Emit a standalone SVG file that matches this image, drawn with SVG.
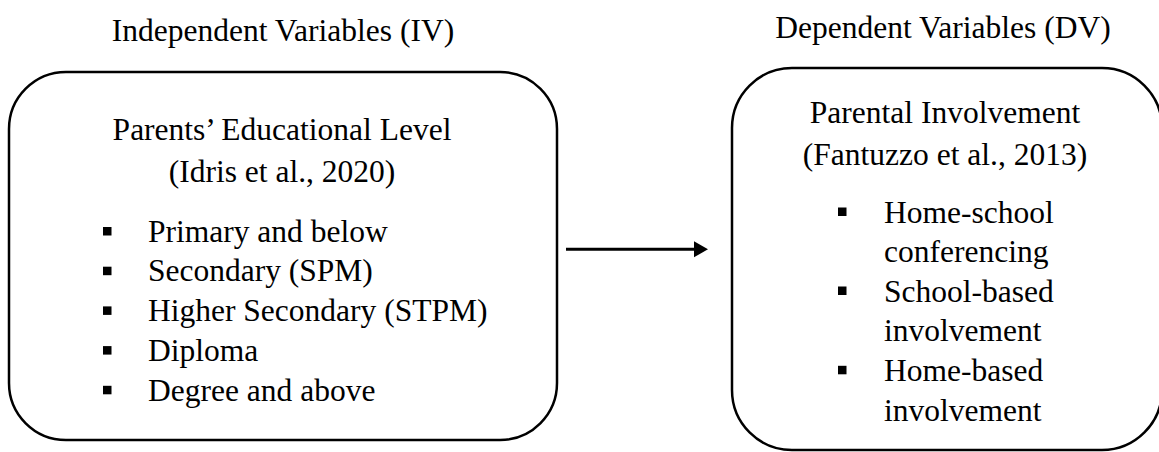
<svg xmlns="http://www.w3.org/2000/svg" width="1159" height="452" viewBox="0 0 1159 452">
<style>
text{font-family:"Liberation Serif","Times New Roman",Times,serif;font-size:31.5px;fill:#000}
.c{text-anchor:middle}
.box{fill:#fff;stroke:#000;stroke-width:2.5}
.b{fill:#000}
</style>
<rect width="1159" height="452" fill="#fff"/>
<text class="c" x="283" y="41">Independent Variables (IV)</text>
<text class="c" x="943" y="38">Dependent Variables (DV)</text>
<g id="iv">
<rect class="box" x="9" y="72" width="548" height="368" rx="57" ry="57"/>
<text class="c" x="282" y="140">Parents’ Educational Level</text>
<text class="c" x="282" y="182">(Idris et al., 2020)</text>
<rect class="b" x="103" y="227" width="8.5" height="8.5"/>
<text x="148" y="241.7">Primary and below</text>
<rect class="b" x="103" y="266.7" width="8.5" height="8.5"/>
<text x="148" y="281.4">Secondary (SPM)</text>
<rect class="b" x="103" y="306.4" width="8.5" height="8.5"/>
<text x="148" y="321.1">Higher Secondary (STPM)</text>
<rect class="b" x="103" y="346.1" width="8.5" height="8.5"/>
<text x="148" y="360.8">Diploma</text>
<rect class="b" x="103" y="385.8" width="8.5" height="8.5"/>
<text x="148" y="400.5">Degree and above</text>
</g>
<g id="dv">
<rect class="box" x="732" y="68" width="430" height="382" rx="60" ry="60"/>
<text class="c" x="945" y="123.3">Parental Involvement</text>
<text class="c" x="945" y="165">(Fantuzzo et al., 2013)</text>
<rect class="b" x="838" y="207.5" width="8.5" height="8.5"/>
<text x="884" y="222.7">Home-school</text>
<text x="884" y="262.4">conferencing</text>
<rect class="b" x="838" y="286.5" width="8.5" height="8.5"/>
<text x="884" y="301.7">School-based</text>
<text x="884" y="341.4">involvement</text>
<rect class="b" x="838" y="365.8" width="8.5" height="8.5"/>
<text x="884" y="381">Home-based</text>
<text x="884" y="420.7">involvement</text>
</g>
<g id="connectors">
<line x1="566" y1="249.3" x2="696" y2="249.3" stroke="#000" stroke-width="3"/>
<polygon points="694,241.3 708,249.3 694,257.3" fill="#000"/>
</g>
</svg>
